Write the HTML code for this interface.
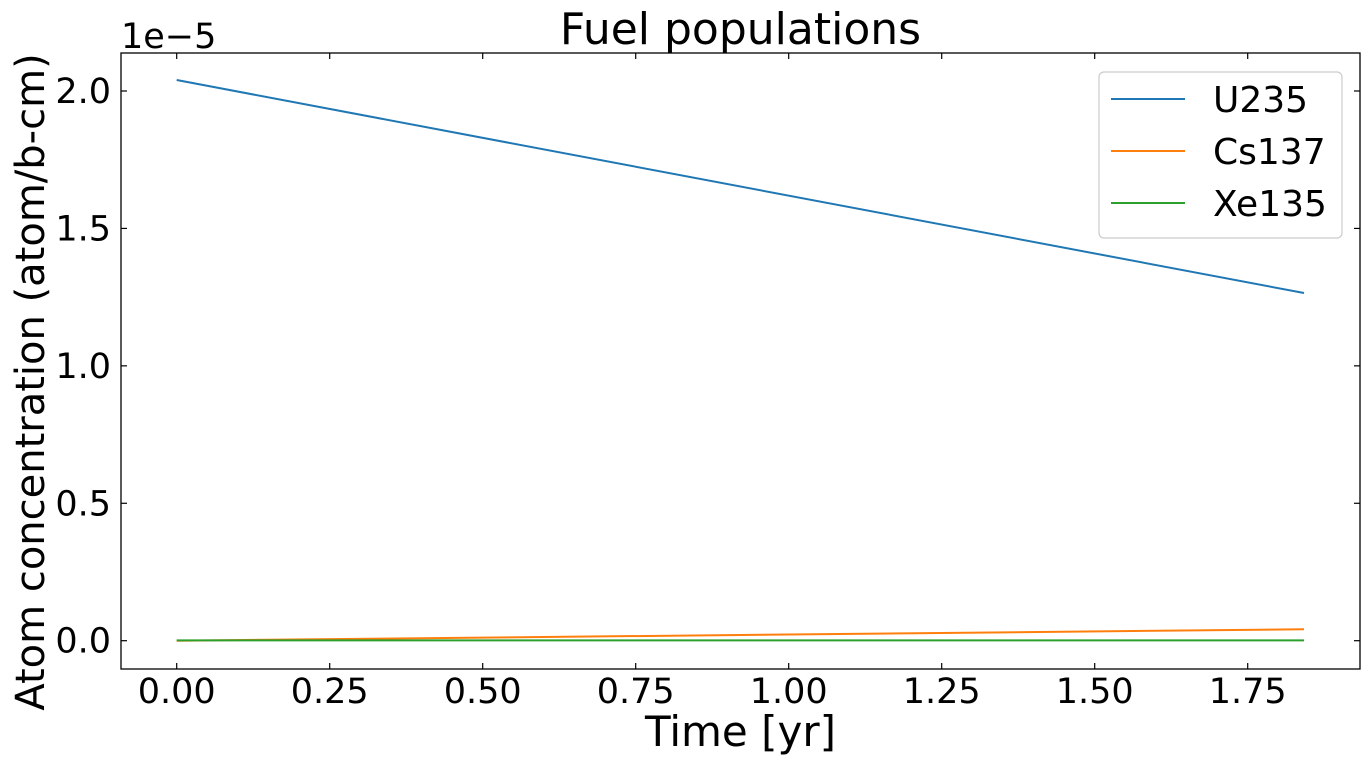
<!DOCTYPE html>
<html><head><meta charset="utf-8"><style>
body{margin:0;background:#fff;}
svg{display:block;font-family:"DejaVu Sans","Liberation Sans",sans-serif;}
</style></head><body>
<svg id="chart" width="1369" height="765"></svg>
<script>
const times=[0,1.842];
const u235=[2.04,1.265];
const cs137=[0,0.0415];
const xe135=[0.001,0.001];
const xTicks=[0,0.25,0.5,0.75,1.0,1.25,1.5,1.75];
const xTickLabels=["0.00","0.25","0.50","0.75","1.00","1.25","1.50","1.75"];
const yTicks=[0,0.5,1.0,1.5,2.0];
const yTickLabels=["0.0","0.5","1.0","1.5","2.0"];
const seriesNames=["U235","Cs137","Xe135"];
const colors=["#1f77b4","#ff7f0e","#2ca02c"];

const NS="http://www.w3.org/2000/svg";
const svg=document.getElementById('chart');
const L=121,R=1360,T=53,B=669;
const X=v=>176.7+v*612;
const Y=v=>640.7-v*274.85;
function mk(tag,attrs,parent){const e=document.createElementNS(NS,tag);for(const k in attrs)e.setAttribute(k,attrs[k]);(parent||svg).appendChild(e);return e;}

const frame=mk('rect',{x:L,y:T,width:R-L,height:B-T,fill:'none',stroke:'#000','stroke-width':1.3});



xTicks.forEach((t,i)=>{
  const x=X(t);
  const a=mk('line',{x1:x,x2:x,y1:B,y2:B-6,stroke:'#000','stroke-width':1.2});
  
  
  const b=mk('line',{x1:x,x2:x,y1:T,y2:T+6,stroke:'#000','stroke-width':1.2});
  
  
  const tx=mk('text',{x:x,y:B+34,'font-size':35,'text-anchor':'middle'});
  tx.textContent=xTickLabels[i];
  
  
});
yTicks.forEach((t,i)=>{
  const y=Y(t);
  const a=mk('line',{x1:L,x2:L+6,y1:y,y2:y,stroke:'#000','stroke-width':1.2});
  
  
  const b=mk('line',{x1:R,x2:R-6,y1:y,y2:y,stroke:'#000','stroke-width':1.2});
  
  
  const tx=mk('text',{x:L-10,y:y+12,'font-size':35,'text-anchor':'end'});
  tx.textContent=yTickLabels[i];
  
  
});

[u235,cs137,xe135].forEach((s,i)=>{
  const pts=s.map((v,j)=>X(times[j])+','+Y(v)).join(' ');
  const p=mk('polyline',{points:pts,fill:'none',stroke:colors[i],'stroke-width':2});
  
  
});

const off=mk('text',{x:121,y:48,'font-size':35});
off.textContent='1e\u22125';



const title=mk('text',{x:(L+R)/2,y:44,'font-size':44,'text-anchor':'middle'});
title.textContent='Fuel populations';



const xl=mk('text',{x:(L+R)/2,y:746,'font-size':42,'text-anchor':'middle'});
xl.textContent='Time [yr]';



const yl=mk('text',{x:0,y:0,'font-size':40,'text-anchor':'middle',transform:'translate(44,382) rotate(-90)'});
yl.textContent='Atom concentration (atom/b-cm)';



const lg=mk('g',{});


mk('rect',{x:1099,y:72,width:243,height:166,rx:5,fill:'#fff',stroke:'#ccc','stroke-width':1.2},lg);
seriesNames.forEach((n,i)=>{
  const y=99+i*52;
  const ln=mk('line',{x1:1111,x2:1185,y1:y,y2:y,stroke:colors[i],'stroke-width':2},lg);
  
  
  const t=mk('text',{x:1213,y:y+13,'font-size':36},lg);
  t.textContent=n;
  
  
});
</script>
</body></html>
